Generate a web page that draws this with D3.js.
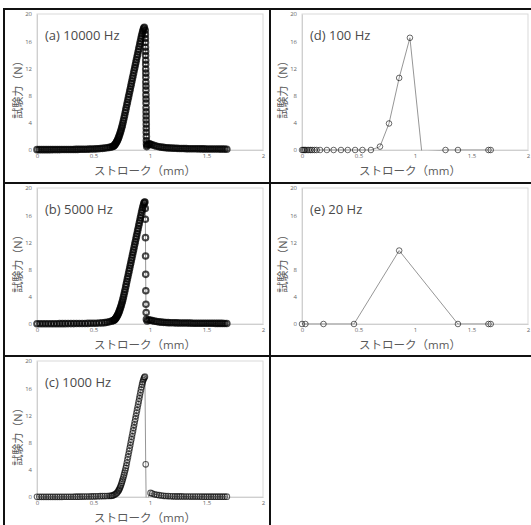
<!DOCTYPE html>
<html>
<head>
<meta charset="utf-8">
<script src="https://cdn.jsdelivr.net/npm/d3@7"></script>
<style>
  body { margin: 0; background: #fff; }
  text { font-family: "Open Sans", "Noto Sans CJK JP", sans-serif; }
</style>
</head>
<body>
<svg width="531" height="525"></svg>
<script>
// tick labels and titles
var xTicks = [0, 0.5, 1, 1.5, 2];
var yTicks = [0, 4, 8, 12, 16, 20];
var panelTitles = ["(a) 10000 Hz", "(b) 5000 Hz", "(c) 1000 Hz", "(d) 100 Hz", "(e) 20 Hz"];
var xTitle = "ストローク（mm）";
var yTitle = "試験力（N）";

// stroke (mm), force (N)
var hz10000 = [
  [0,0.05],[0.02,0.05],[0.04,0.05],[0.06,0.05],[0.08,0.05],[0.1,0.05],[0.12,0.05],[0.14,0.06],[0.16,0.06],[0.18,0.06],
  [0.2,0.06],[0.22,0.07],[0.24,0.07],[0.26,0.07],[0.28,0.08],[0.3,0.08],[0.32,0.08],[0.34,0.09],[0.36,0.09],[0.38,0.1],
  [0.4,0.1],[0.42,0.11],[0.44,0.12],[0.46,0.13],[0.48,0.14],[0.5,0.15],[0.52,0.17],[0.54,0.19],[0.56,0.21],[0.58,0.24],
  [0.6,0.28],[0.62,0.32],[0.64,0.38],[0.655,0.44],
  [0.67,0.5],[0.675,0.55],[0.68,0.62],[0.685,0.7],[0.69,0.8],[0.695,0.92],[0.7,1.05],[0.705,1.2],[0.71,1.36],[0.715,1.54],
  [0.72,1.74],[0.725,1.96],[0.73,2.2],[0.735,2.45],[0.74,2.72],[0.745,3.0],[0.75,3.3],[0.755,3.62],[0.76,3.96],[0.765,4.32],
  [0.77,4.7],[0.775,5.08],[0.78,5.47],[0.785,5.86],[0.79,6.25],[0.795,6.64],[0.8,7.03],[0.805,7.42],[0.81,7.81],[0.815,8.2],
  [0.82,8.59],[0.825,8.98],[0.83,9.37],[0.835,9.76],[0.84,10.15],[0.845,10.54],[0.85,10.93],[0.855,11.32],[0.86,11.71],[0.865,12.1],
  [0.87,12.49],[0.875,12.88],[0.88,13.27],[0.885,13.66],[0.89,14.05],[0.895,14.44],[0.9,14.83],[0.905,15.22],[0.91,15.61],[0.915,16.0],
  [0.92,16.38],[0.925,16.75],[0.93,17.1],[0.935,17.42],[0.94,17.7],[0.945,17.92],[0.95,18.05],
  [0.958,17.6],[0.959,17.0],[0.959,16.4],[0.96,15.8],[0.96,15.1],[0.961,14.5],[0.961,13.9],[0.962,13.2],[0.962,12.6],[0.962,11.9],
  [0.963,11.3],[0.963,10.7],[0.963,10.0],[0.964,9.4],[0.964,8.8],[0.964,8.1],[0.965,7.5],[0.965,6.9],[0.965,6.2],[0.966,5.6],
  [0.966,5.0],[0.966,4.4],[0.967,3.8],[0.967,3.2],[0.967,2.6],[0.968,2.0],[0.968,1.4],[0.969,0.9],[0.971,0.5],
  [0.976,0.7],[0.985,0.85],[0.995,0.9],[1.005,0.85],[1.02,0.75],[1.04,0.65],[1.06,0.55],[1.08,0.48],[1.1,0.42],[1.12,0.38],
  [1.14,0.34],[1.16,0.31],[1.18,0.29],[1.2,0.27],[1.22,0.25],[1.24,0.24],[1.26,0.23],[1.28,0.22],[1.3,0.21],[1.32,0.2],
  [1.34,0.19],[1.36,0.19],[1.38,0.18],[1.4,0.18],[1.42,0.17],[1.44,0.17],[1.46,0.16],[1.48,0.16],[1.5,0.15],[1.52,0.15],
  [1.54,0.15],[1.56,0.14],[1.58,0.14],[1.6,0.14],[1.62,0.13],[1.64,0.13],[1.66,0.13],[1.68,0.12]
];

var hz5000 = [
  [0,0.03],[0.025,0.03],[0.05,0.03],[0.075,0.03],[0.1,0.04],[0.125,0.04],[0.15,0.04],[0.175,0.04],[0.2,0.05],[0.225,0.05],
  [0.25,0.05],[0.275,0.06],[0.3,0.06],[0.325,0.06],[0.35,0.07],[0.375,0.07],[0.4,0.08],[0.425,0.08],[0.45,0.09],[0.475,0.1],
  [0.5,0.11],[0.525,0.12],[0.55,0.14],[0.575,0.16],[0.6,0.2],[0.62,0.25],[0.64,0.32],[0.66,0.42],
  [0.675,0.5],[0.68,0.55],[0.685,0.62],[0.69,0.7],[0.695,0.8],[0.7,0.92],[0.705,1.05],[0.71,1.2],[0.715,1.36],[0.72,1.54],
  [0.725,1.74],[0.73,1.96],[0.735,2.2],[0.74,2.45],[0.745,2.72],[0.75,3.0],[0.755,3.3],[0.76,3.62],[0.765,3.96],[0.77,4.32],
  [0.775,4.7],[0.78,5.08],[0.785,5.47],[0.79,5.86],[0.795,6.25],[0.8,6.64],[0.805,7.03],[0.81,7.42],[0.815,7.81],[0.82,8.2],
  [0.825,8.59],[0.83,8.98],[0.835,9.37],[0.84,9.76],[0.845,10.15],[0.85,10.54],[0.855,10.93],[0.86,11.32],[0.865,11.71],[0.87,12.1],
  [0.875,12.49],[0.88,12.88],[0.885,13.27],[0.89,13.66],[0.895,14.05],[0.9,14.44],[0.905,14.83],[0.91,15.22],[0.915,15.61],[0.92,16.0],
  [0.925,16.38],[0.93,16.75],[0.935,17.1],[0.94,17.42],[0.945,17.7],[0.95,17.88],[0.955,17.95],
  [0.958,17.0],[0.959,15.4],[0.96,12.7],[0.961,10.0],[0.962,7.3],[0.963,4.9],[0.964,2.9],[0.966,1.7],[0.968,0.7],
  [0.975,0.45],[0.99,0.6],[1.005,0.55],[1.02,0.5],[1.04,0.42],[1.06,0.36],[1.08,0.31],[1.1,0.27],[1.12,0.24],[1.14,0.22],
  [1.16,0.2],[1.18,0.19],[1.2,0.18],[1.22,0.17],[1.24,0.16],[1.26,0.15],[1.28,0.15],[1.3,0.14],[1.32,0.14],[1.34,0.13],
  [1.36,0.13],[1.38,0.12],[1.4,0.12],[1.42,0.12],[1.44,0.11],[1.46,0.11],[1.48,0.11],[1.5,0.1],[1.52,0.1],[1.54,0.1],
  [1.56,0.1],[1.58,0.09],[1.6,0.09],[1.62,0.09],[1.64,0.09],[1.66,0.08],[1.68,0.08]
];

var hz1000 = [
  [0,0.02],[0.02,0.02],[0.04,0.02],[0.06,0.02],[0.08,0.02],[0.1,0.02],[0.12,0.03],[0.14,0.03],[0.16,0.03],[0.18,0.03],
  [0.2,0.03],[0.22,0.03],[0.24,0.04],[0.26,0.04],[0.28,0.04],[0.3,0.04],[0.32,0.04],[0.34,0.05],[0.36,0.05],[0.38,0.05],
  [0.4,0.06],[0.42,0.06],[0.44,0.07],[0.46,0.07],[0.48,0.08],[0.5,0.09],[0.52,0.1],[0.54,0.11],[0.56,0.12],[0.58,0.13],
  [0.6,0.14],[0.62,0.15],[0.64,0.17],[0.655,0.18],
  [0.665,0.2],[0.675,0.26],[0.685,0.34],[0.695,0.44],[0.705,0.56],[0.712,0.7],[0.72,0.9],[0.725,1.03],[0.73,1.2],[0.735,1.39],
  [0.74,1.6],[0.745,1.84],[0.75,2.1],[0.755,2.37],[0.76,2.65],[0.765,2.94],[0.77,3.25],[0.775,3.57],[0.78,3.9],[0.785,4.24],
  [0.79,4.6],[0.795,5.03],[0.8,5.46],[0.805,5.89],[0.81,6.32],[0.815,6.75],[0.82,7.18],[0.825,7.61],[0.83,8.04],[0.835,8.47],
  [0.84,8.9],[0.845,9.33],[0.85,9.76],[0.855,10.19],[0.86,10.62],[0.865,11.05],[0.87,11.48],[0.875,11.91],[0.88,12.34],[0.885,12.77],
  [0.89,13.2],[0.895,13.63],[0.9,14.06],[0.905,14.49],[0.91,14.92],[0.915,15.35],[0.92,15.78],[0.925,16.18],[0.93,16.55],[0.935,16.88],
  [0.94,17.17],[0.945,17.4],[0.95,17.58],[0.955,17.7],
  [0.962,4.8],[0.966,-0.6],
  [1.005,0.6],[1.02,0.5],[1.04,0.4],[1.06,0.33],[1.08,0.27],[1.1,0.22],[1.12,0.18],[1.14,0.15],[1.16,0.13],[1.18,0.11],
  [1.2,0.1],[1.22,0.09],[1.24,0.09],[1.26,0.08],[1.28,0.08],[1.3,0.07],[1.32,0.07],[1.34,0.07],[1.36,0.06],[1.38,0.06],
  [1.4,0.06],[1.42,0.06],[1.44,0.06],[1.46,0.05],[1.48,0.05],[1.5,0.05],[1.52,0.05],[1.54,0.05],[1.56,0.05],[1.58,0.05],
  [1.6,0.05],[1.62,0.05],[1.64,0.05],[1.66,0.05],[1.68,0.05]
];

var hz100 = [
  [0,0],[0.01,0],[0.02,0],[0.03,0],[0.045,0],[0.06,0],[0.075,0],[0.09,0],[0.11,0],[0.13,0],[0.16,0],
  [0.22,0],[0.28,0],[0.345,0],[0.405,0],[0.47,0],[0.535,0],[0.61,0],[0.69,0.5],[0.77,3.9],[0.86,10.6],[0.955,16.5],
  [1.06,-0.3],[1.27,0],[1.38,0],[1.65,0],[1.67,0]
];

var hz20 = [
  [0,0],[0.03,0],[0.19,0],[0.46,0],[0.86,10.8],[1.38,0],[1.65,0],[1.67,0]
];

var series = [hz10000, hz5000, hz1000, hz100, hz20];

// layout of the five excel charts inside the table
var colX = [37, 302], rowY = [14, 188, 361];
var plotW = 226, plotH = 136;
var cells = [[0, 0], [0, 1], [0, 2], [1, 0], [1, 1]];
// marker look: dense records pile up into a black band
var markStyle = [
  { w: 2, op: 0.72 },
  { w: 2, op: 0.72 },
  { w: 1.1, op: 0.62 },
  { w: 0.9, op: 0.65 },
  { w: 0.9, op: 0.65 }
];

var svg = d3.select("svg");

// table grid
var grid = svg.append("g").attr("stroke", "#111").attr("stroke-width", 2);
[9, 183, 356].forEach(function(y) {
  grid.append("line").attr("x1", 3).attr("x2", 531).attr("y1", y).attr("y2", y);
});
[4, 270].forEach(function(x) {
  grid.append("line").attr("x1", x).attr("x2", x).attr("y1", 8).attr("y2", 525);
});

series.forEach(function(data, i) {
  var px = colX[cells[i][0]], py = rowY[cells[i][1]];
  var x = d3.scaleLinear().domain([0, 2]).range([0, plotW]);
  var y = d3.scaleLinear().domain([0, 20]).range([plotH, 0]);

  var g = svg.append("g").attr("transform", "translate(" + px + "," + py + ")");

  g.append("rect")
    .attr("x", 0).attr("y", 0)
    .attr("width", plotW).attr("height", plotH)
    .attr("fill", "none").attr("stroke", "#d9d9d9");

  var ya = g.append("g")
    .call(d3.axisLeft(y).tickValues(yTicks).tickSize(0).tickPadding(5));
  var xa = g.append("g").attr("transform", "translate(0," + plotH + ")")
    .call(d3.axisBottom(x).tickValues(xTicks).tickFormat(d3.format("")).tickSize(0).tickPadding(4));
  [ya, xa].forEach(function(a) {
    a.select(".domain").attr("stroke", "#cfcfcf");
    a.selectAll("text").attr("font-size", 6).attr("fill", "#666").attr("font-family", "Arial, 'Liberation Sans', sans-serif");
  });

  var clipId = "clip" + i;
  g.append("clipPath").attr("id", clipId)
    .append("rect").attr("x", 0).attr("y", -1).attr("width", plotW).attr("height", plotH + 1.5);

  g.append("path")
    .datum(data)
    .attr("clip-path", "url(#" + clipId + ")")
    .attr("fill", "none")
    .attr("stroke", "#8a8a8a")
    .attr("stroke-width", 0.9)
    .attr("d", d3.line().x(function(d) { return x(d[0]); }).y(function(d) { return y(d[1]); }));

  g.append("g").selectAll("circle")
    .data(data.filter(function(d) { return d[1] >= 0; }))
    .enter().append("circle")
    .attr("cx", function(d) { return x(d[0]); })
    .attr("cy", function(d) { return y(d[1]); })
    .attr("r", 2.8)
    .attr("fill", "none")
    .attr("stroke", "#000")
    .attr("stroke-opacity", markStyle[i].op)
    .attr("stroke-width", markStyle[i].w);

  g.append("text")
    .attr("x", 8).attr("y", 26)
    .attr("font-size", 13)
    .attr("fill", "#4a4a4a")
    .text(panelTitles[i]);

  g.append("text")
    .attr("x", plotW / 2 - 5).attr("y", plotH + 25)
    .attr("text-anchor", "middle")
    .attr("font-size", 11.5)
    .attr("fill", "#5a5a5a")
    .text(xTitle);

  g.append("text")
    .attr("transform", "translate(-15," + (plotH / 2 + 5) + ") rotate(-90)")
    .attr("text-anchor", "middle")
    .attr("font-size", 11)
    .attr("fill", "#5a5a5a")
    .text(yTitle);
});
</script>
</body>
</html>
